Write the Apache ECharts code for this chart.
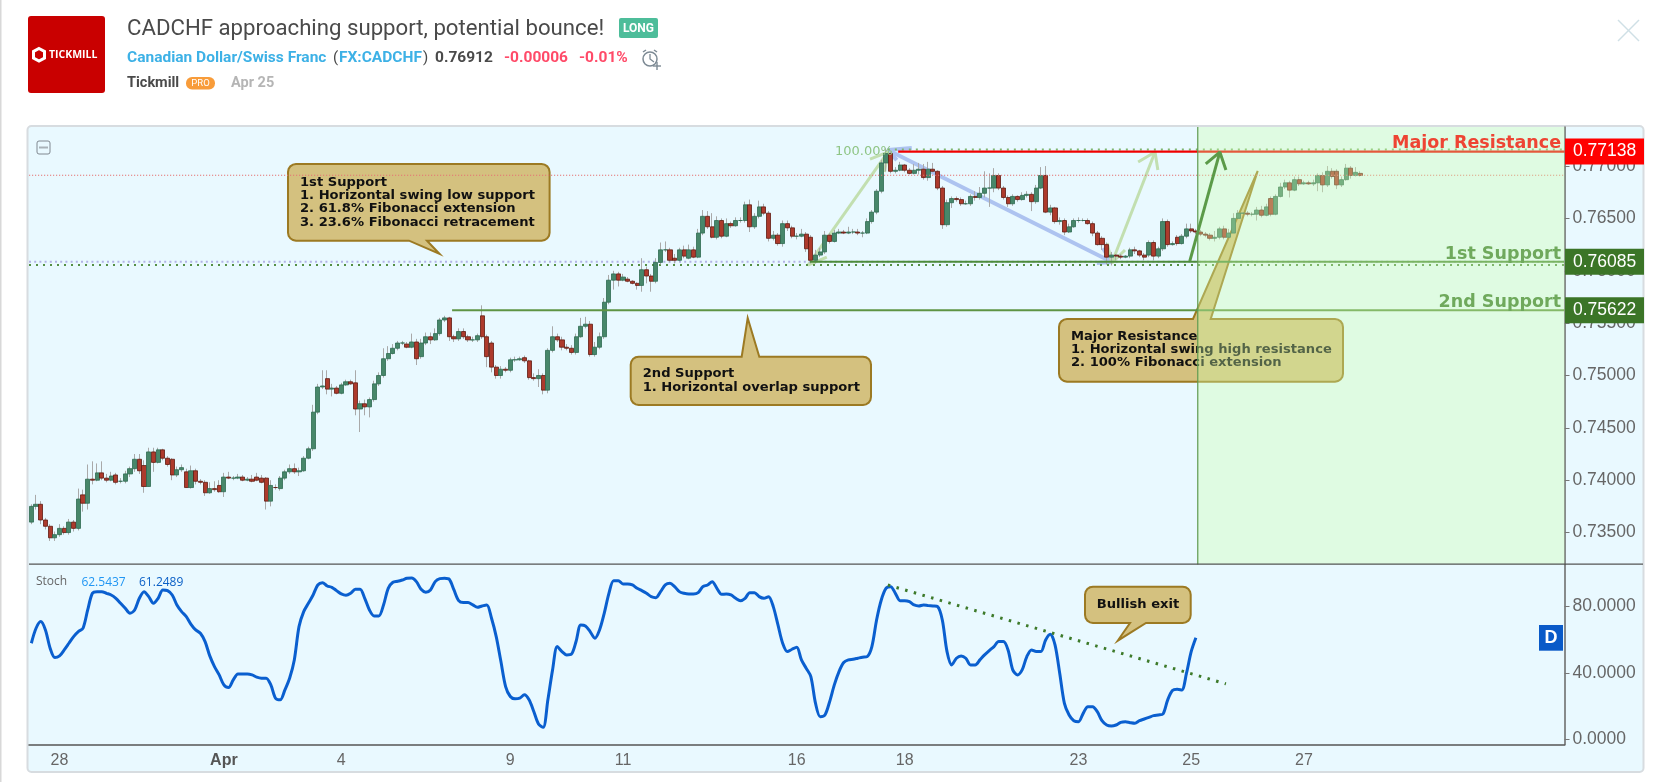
<!DOCTYPE html>
<html><head><meta charset="utf-8">
<script src="https://cdn.jsdelivr.net/npm/echarts@6/dist/echarts.min.js"></script>
<style>html,body{margin:0;padding:0;background:#fff}#c{width:1666px;height:782px}</style>
</head><body><div id="c"></div>
<script>
// Day tick labels, keyed by bar slot
const tickSlots = [6,41,66,102,126,163,186,223,247,271];
const tickLabels = ['28','Apr','4','9','11','16','18','23','25','27'];
const slotCount = 327;
const priceTicks = [0.735,0.74,0.745,0.75,0.755,0.76,0.765,0.77];
const stochTicks = [0,40,80];
// Price levels
const majorResistance = 0.77138, firstSupport = 0.76085, secondSupport = 0.75622, lastPrice = 0.76912;
// Bars: open, close, high, low, in units of 0.0001
const bars = [
[7360,7375,7377,7358],[7375,7377,7386,7372],[7377,7362,7380,7358],[7362,7356,7364,7353],[7356,7345,7358,7342],
[7345,7348,7351,7342],[7348,7354,7358,7346],[7354,7350,7356,7348],[7350,7360,7363,7348],[7360,7354,7362,7351],
[7354,7382,7392,7352],[7386,7378,7391,7370],[7378,7401,7415,7372],[7401,7400,7418,7396],[7400,7407,7416,7399],
[7407,7402,7418,7400],[7402,7400,7406,7398],[7400,7404,7408,7399],[7405,7398,7407,7396],[7399,7399,7402,7397],
[7399,7406,7409,7397],[7406,7411,7413,7403],[7411,7420,7425,7408],[7420,7409,7425,7406],[7414,7394,7419,7388],
[7394,7427,7431,7394],[7427,7417,7431,7408],[7417,7429,7431,7416],[7429,7421,7430,7419],[7421,7415,7423,7413],
[7420,7405,7421,7400],[7405,7410,7413,7403],[7410,7412,7415,7408],[7408,7393,7411,7393],[7393,7409,7414,7392],
[7409,7399,7411,7396],[7399,7398,7401,7396],[7398,7388,7400,7385],[7388,7392,7398,7387],[7392,7391,7399,7389],
[7395,7389,7400,7388],[7389,7403,7407,7384],[7403,7402,7408,7401],[7402,7402,7404,7400],[7402,7403,7406,7401],
[7403,7400,7405,7399],[7400,7401,7403,7399],[7401,7399,7405,7398],[7403,7400,7407,7399],[7402,7398,7405,7397],
[7402,7380,7403,7372],[7380,7395,7400,7375],[7393,7393,7396,7391],[7392,7402,7404,7390],[7402,7408,7410,7400],
[7408,7411,7415,7406],[7411,7408,7416,7406],[7408,7409,7412,7404],[7409,7421,7423,7408],[7421,7430,7432,7420],
[7430,7465,7472,7428],[7465,7489,7492,7463],[7489,7490,7505,7487],[7497,7487,7505,7482],[7487,7488,7492,7480],
[7488,7483,7490,7482],[7483,7491,7493,7482],[7491,7494,7496,7490],[7494,7492,7496,7491],[7493,7468,7505,7462],
[7468,7473,7476,7446],[7473,7470,7477,7462],[7470,7477,7479,7460],[7477,7492,7495,7475],[7492,7500,7503,7490],
[7500,7516,7526,7498],[7516,7521,7528,7514],[7521,7526,7530,7520],[7526,7531,7533,7524],[7531,7531,7533,7529],
[7530,7527,7532,7526],[7527,7532,7540,7526],[7532,7516,7535,7510],
[7518,7531,7535,7516],[7531,7537,7541,7529],[7537,7534,7541,7530],[7534,7540,7545,7533],[7540,7553,7555,7538],
[7553,7555,7557,7551],[7555,7537,7556,7533],[7537,7535,7539,7532],[7535,7542,7545,7533],[7542,7537,7545,7535],
[7537,7534,7539,7532],[7534,7534,7537,7532],[7534,7538,7540,7532],[7557,7537,7567,7535],[7537,7518,7539,7508],
[7531,7508,7533,7503],[7508,7500,7510,7497],[7500,7506,7509,7497],[7506,7505,7508,7503],[7505,7515,7517,7503],
[7515,7515,7518,7513],[7515,7516,7518,7514],[7517,7514,7519,7512],[7514,7498,7515,7496],[7498,7497,7502,7495],
[7497,7500,7506,7489],[7500,7486,7502,7482],[7486,7524,7526,7483],[7524,7537,7547,7522],[7537,7534,7540,7532],
[7534,7527,7537,7524],[7527,7526,7530,7524],[7526,7522,7529,7520],[7522,7537,7540,7520],[7537,7547,7555,7536],
[7547,7549,7556,7545],[7549,7520,7552,7518],[7520,7527,7532,7518],[7527,7537,7541,7525],[7537,7570,7574,7535],
[7570,7591,7596,7568],[7591,7597,7600,7582],[7597,7591,7599,7585],[7591,7594,7597,7590],[7592,7590,7594,7589],
[7590,7588,7591,7587],[7588,7586,7589,7582],[7586,7601,7612,7580],[7601,7595,7604,7588],[7595,7590,7597,7580],
[7590,7608,7612,7588],[7608,7620,7627,7606],[7620,7620,7628,7618],[7620,7610,7622,7608],[7612,7610,7616,7607],
[7610,7620,7622,7609],[7620,7614,7624,7612],[7612,7620,7625,7611],[7620,7613,7623,7612],[7613,7636,7640,7612],
[7636,7652,7658,7634],[7652,7642,7657,7640],[7642,7632,7655,7631],[7632,7648,7652,7630],[7648,7633,7650,7631],
[7633,7645,7650,7632],[7645,7643,7647,7641],[7643,7648,7651,7642],[7648,7648,7651,7646],[7648,7663,7666,7646],
[7663,7642,7668,7637],[7642,7652,7655,7640],[7652,7661,7667,7650],[7661,7655,7664,7653],[7655,7631,7657,7628],
[7631,7634,7638,7629],[7634,7626,7636,7624],[7626,7645,7648,7623],[7645,7641,7648,7638],[7641,7633,7643,7631],
[7633,7633,7636,7630],[7633,7635,7640,7632],[7635,7621,7637,7618],[7632,7610,7634,7607],
[7610,7615,7620,7607],[7615,7618,7622,7613],[7618,7634,7638,7616],[7634,7628,7636,7626],[7628,7636,7639,7627],
[7636,7637,7640,7635],[7637,7636,7639,7635],[7636,7637,7642,7635],[7637,7637,7640,7635],[7637,7636,7640,7634],
[7636,7636,7638,7632],[7636,7647,7650,7635],[7647,7656,7658,7645],[7656,7676,7678,7654],[7676,7703,7706,7674],
[7703,7712,7717,7695],[7712,7695,7714,7693],[7695,7696,7699,7693],[7696,7701,7704,7695],[7701,7696,7702,7694],
[7696,7693,7698,7692],[7693,7696,7702,7692],[7696,7697,7703,7692],[7697,7689,7702,7687],[7689,7697,7704,7686],
[7697,7695,7703,7694],[7695,7679,7696,7677],[7679,7644,7681,7640],[7644,7665,7668,7642],[7665,7669,7671,7660],
[7669,7668,7671,7666],[7668,7664,7670,7662],[7664,7664,7667,7663],[7664,7671,7673,7662],[7671,7670,7676,7667],
[7670,7674,7680,7668],[7674,7679,7695,7670],[7679,7679,7693,7661],[7679,7691,7698,7675],[7691,7679,7693,7677],
[7679,7670,7681,7668],[7670,7664,7672,7661],[7664,7671,7673,7662],[7671,7668,7672,7666],[7668,7672,7675,7667],
[7672,7673,7676,7670],[7673,7666,7675,7657],[7666,7679,7682,7664],[7679,7691,7699,7678],[7691,7656,7700,7655],
[7656,7660,7663,7653],[7660,7647,7661,7645],[7647,7648,7651,7644],[7648,7637,7650,7634],[7637,7642,7645,7636],
[7642,7648,7650,7641],[7648,7648,7651,7646],[7648,7648,7650,7647],[7648,7645,7650,7644],[7645,7636,7647,7633],
[7636,7625,7638,7624],[7631,7625,7633,7620],[7625,7613,7627,7606],[7613,7615,7618,7605],[7615,7614,7616,7610],
[7614,7613,7616,7611],[7613,7614,7615,7612],[7614,7620,7622,7612],[7620,7619,7623,7616],[7619,7615,7620,7613],
[7615,7613,7617,7610],
[7615,7627,7629,7613],[7627,7614,7629,7610],[7614,7621,7623,7612],[7621,7647,7650,7619],[7647,7625,7649,7623],
[7625,7626,7628,7624],[7632,7626,7634,7624],[7626,7633,7635,7625],[7633,7640,7645,7631],[7640,7638,7645,7636],
[7638,7637,7640,7635],[7637,7635,7639,7633],[7635,7634,7637,7632],[7634,7631,7636,7629],[7631,7632,7638,7628],
[7632,7640,7642,7630],[7640,7632,7643,7630],[7632,7636,7640,7630],[7636,7650,7655,7634],[7650,7655,7658,7648],
[7655,7655,7658,7654],[7655,7654,7657,7652],[7654,7654,7656,7652],[7654,7658,7661,7648],[7658,7653,7662,7651],
[7653,7661,7664,7652],[7669,7654,7671,7652],[7654,7671,7673,7653],[7671,7680,7684,7670],[7680,7684,7687,7678],
[7684,7677,7686,7670],[7677,7687,7690,7676],[7687,7683,7690,7681],[7683,7684,7686,7682],[7684,7683,7686,7682],
[7683,7684,7687,7681],[7684,7691,7693,7676],[7691,7682,7694,7675],[7682,7695,7700,7680],[7695,7690,7698,7688],
[7695,7682,7697,7678],[7682,7687,7690,7680],[7687,7698,7702,7686],[7698,7691,7700,7688],[7691,7694,7699,7690],
[7693,7691,7695,7690]
];
// Stochastic %D
const stochD = [
57.9,66.9,70.9,65.9,54.9,49.3,50.3,53.9,57.9,61.9,64.9,66.9,77.9,87.9,88.9,88.9,87.9,86.9,84.9,81.9,78.9,75.9,77.9,84.9,88.9,85.9,81.9,84.9,89.9,89.5,86.9,80.9,76.9,73.9,69.3,65.9,63.9,58.9,50.3,43.9,38.9,32.9,31.3,35.9,39.5,39.5,39.5,38.9,37.5,36.9,36.9,32.9,24.9,23.9,29.9,36.9,47.9,67.9,76.9,81.9,86.9,92.9,94.3,92.3,91.5,89.5,87.5,86.7,87.9,90.3,90.3,84.9,77.9,74.3,74.3,80.9,90.9,94.5,95.1,95.9,96.9,97.1,94.9,90.3,88.5,89.9,94.9,96.7,96.9,96.3,89.9,83.5,82.3,82.3,80.9,79.5,80.3,80.9,72.9,61.9,46.9,31.9,25.9,24.5,24.9,26.9,23.9,16.9,9.4,7.4,23.9,41.9,55.9,52.9,50.9,51.3,58.9,68.9,
68.3,64.9,60.9,65.9,75.9,87.9,95.5,95.5,93.5,93.5,92.9,90.9,89.5,87.9,85.9,85.3,88.9,92.9,93.9,91.9,88.9,87.9,87.5,87.5,88.3,91.9,92.9,94.9,90.9,87.3,87.5,86.9,84.9,83.5,84.9,88.3,88.3,85.9,84.9,85.9,79.9,68.9,57.9,52.9,54.3,55.5,47.9,42.9,37.9,21.8,13.8,14.8,22.8,32.9,40.9,46.3,47.9,48.3,48.9,49.5,49.9,55.9,71.9,83.9,90.9,91.9,87.9,83.5,83.5,82.9,80.9,80.3,80.9,80.5,80.3,79.9,71.9,52.9,44.9,48.9,50.3,48.9,44.9,44.9,47.9,50.9,53.5,55.9,58.9,58.9,53.9,41.9,38.9,41.9,49.9,53.9,52.9,52.9,59.9,63.3,56.9,39.9,21.8,14.8,11.4,10.8,15.8,19.8,19.8,16.8,11.4,8.8,8.2,8.8,10.4,10.8,10.2,9.8,11.4,12.4,13.4,14.4,14.8,15.4,23.9,29.5,30.2,29.8,39.9,52.9,61.25
];
// Stochastic trendline and chart drawings as [slot, value]
const stochTrend = [[182.9,92.9],[254.9,33.5]];
const blueArrow = [[182.9,0.77153],[230.6,0.76084]];
const blueHeadTop = [[188,0.77172],[182.9,0.77153],[184.8,0.77057]];
const blueHeadLow = [[227.4,0.76074],[230.6,0.76084],[228.7,0.76217]];
const paleArrowA = [[165.9,0.76055],[182.9,0.77134]];
const paleHeadA = [[179.1,0.77067],[182.9,0.77134],[182.2,0.76943]];
const paleFootA = [[169.9,0.76131],[165.9,0.76055]];
const paleArrowB = [[230.6,0.76074],[239.8,0.77134]];
const paleHeadB = [[236.2,0.77038],[239.8,0.77134],[240.4,0.76962]];
const paleFootB = [[229.6,0.76265],[230.6,0.76074],[233.4,0.76198]];
const darkArrow = [[247.2,0.76093],[253.6,0.77134]];
const darkHead = [[250.6,0.7702],[253.6,0.77134],[254.9,0.76962]];
const forecastStart = 248.9;

const yMin = 0.73195, yMax = 0.77373, sMin = -3.1, sMax = 105.2;
const cats = Array.from({length:slotCount},(_,i)=>{const k=tickSlots.indexOf(i);return k<0?'':tickLabels[k];});

const chart = echarts.init(document.getElementById('c'));
const lineS = (name,data,color,width,z,type,xi,yi)=>({
  name,type:'line',data,symbol:'none',silent:true,animation:false,z,
  xAxisIndex:xi==null?2:xi,yAxisIndex:yi==null?0:yi,
  lineStyle:{color,width,type:type||'solid',cap:'butt'}
});
const axisFont = {fontFamily:'"Liberation Sans", Arial, sans-serif',fontSize:16};
const priceFont = {fontFamily:'"Liberation Sans", Arial, sans-serif',fontSize:17.5};
// price tag at the right edge of the pane
const tagS = (name,v,bg)=>({name,type:'scatter',xAxisIndex:2,yAxisIndex:0,data:[[slotCount,v]],symbolSize:1,
  itemStyle:{color:'rgba(0,0,0,0)',opacity:1},silent:true,z:8,clip:false,labelLayout:{hideOverlap:false},
  label:Object.assign({show:true,opacity:1,position:'right',distance:0,formatter:v.toFixed(5),backgroundColor:bg,color:'#fff',
    width:70,padding:[4,1,4,8],align:'left'},priceFont)});
// rounded box with a speech-bubble tail, as polygon points
const arc=(cx,cy,r,a0)=>[0,1,2,3,4].map(k=>{const a=a0+k*Math.PI/8;return [cx+r*Math.cos(a),cy+r*Math.sin(a)];});
const rc = (x1,y1,x2,y2,r,t)=>{
  let p=[];
  p=p.concat(arc(x1+r,y1+r,r,Math.PI));
  if(t.side==='top') p.push([t.b1,y1],[t.tx,t.ty],[t.b2,y1]);
  p=p.concat(arc(x2-r,y1+r,r,-Math.PI/2));
  p=p.concat(arc(x2-r,y2-r,r,0));
  if(t.side==='bottom') p.push([t.b2,y2],[t.tx,t.ty],[t.b1,y2]);
  p=p.concat(arc(x1+r,y2-r,r,Math.PI/2));
  return p;
};
const callFont='bold 13.1px "DejaVu Sans"';
const T=(text,x,y,font,fill,z,align)=>({type:'text',z:z||20,silent:true,style:{text,x,y,font,fill,textVerticalAlign:'middle',textAlign:align||'left'}});
const callout=(pts,z)=>({type:'polygon',z,silent:true,shape:{points:pts},style:{fill:'#d4c17f',stroke:'#9c7a23',lineWidth:2}});
const hF='"Roboto"';
const graphics=[
  {type:'rect',z:-10,silent:true,shape:{x:0,y:0,width:1.5,height:782},style:{fill:'#d8d8d8'}},
  {type:'rect',z:-9,silent:true,shape:{x:27.5,y:126,width:1616,height:646,r:4},style:{fill:'#e9f9ff',stroke:'#d7dce0',lineWidth:2}},
  // logo
  {type:'rect',z:10,silent:true,shape:{x:28,y:16,width:77,height:77,r:3},style:{fill:'#c90000'}},
  {type:'polygon',z:11,silent:true,shape:{points:[[39,48.5],[44.5,51.5],[44.5,58],[39,61],[33.5,58],[33.5,51.5]]},style:{fill:'none',stroke:'#fff',lineWidth:3}},
  T('TICKMILL',49,55,'bold 10.5px "Open Sans"','#fff',11),
  // header text
  T('CADCHF approaching support, potential bounce!',127,29.5,`22.2px ${hF}`,'#4a4a4a'),
  {type:'rect',z:10,silent:true,shape:{x:619,y:18,width:39,height:20,r:2},style:{fill:'#4dbd9a'}},
  T('LONG',638.5,28.5,`bold 12px ${hF}`,'#fff',11,'center'),
  T('Canadian Dollar/Swiss Franc',127,58.5,`bold 15.5px ${hF}`,'#3db1e6'),
  T('(',333,58.5,`15px ${hF}`,'#4a4a4a'),
  T('FX:CADCHF',339,58.5,`bold 15.5px ${hF}`,'#3db1e6'),
  T(')',423,58.5,`15px ${hF}`,'#4a4a4a'),
  T('0.76912',435,58.5,`bold 15.5px ${hF}`,'#4a4a4a'),
  T('-0.00006',504,58.5,`bold 15.5px ${hF}`,'#ff4a68'),
  T('-0.01%',579,58.5,`bold 15.5px ${hF}`,'#ff4a68'),
  {type:'circle',z:10,silent:true,shape:{cx:650,cy:59,r:7},style:{fill:'none',stroke:'#7d8a94',lineWidth:1.5}},
  {type:'polyline',z:10,silent:true,shape:{points:[[650,54],[650,59],[654,62]]},style:{fill:'none',stroke:'#7d8a94',lineWidth:1.3}},
  {type:'polyline',z:10,silent:true,shape:{points:[[643,52],[646,50]]},style:{fill:'none',stroke:'#7d8a94',lineWidth:1.5}},
  {type:'polyline',z:10,silent:true,shape:{points:[[654,50],[657,52]]},style:{fill:'none',stroke:'#7d8a94',lineWidth:1.5}},
  {type:'polyline',z:10,silent:true,shape:{points:[[653,66],[661,66]]},style:{fill:'none',stroke:'#7d8a94',lineWidth:1.4}},
  {type:'polyline',z:10,silent:true,shape:{points:[[657,62],[657,70]]},style:{fill:'none',stroke:'#7d8a94',lineWidth:1.4}},
  T('Tickmill',127,83,`bold 14.5px ${hF}`,'#4a4a4a'),
  {type:'rect',z:10,silent:true,shape:{x:186,y:77,width:29,height:12.5,r:6},style:{fill:'#f89c3a'}},
  T('PRO',200.5,83.5,`9.5px ${hF}`,'#fff',11,'center'),
  T('Apr 25',231,83,`bold 14.5px ${hF}`,'#b5b5b5'),
  {type:'polyline',z:10,silent:true,shape:{points:[[1618,20],[1639,41]]},style:{fill:'none',stroke:'#cfe0e6',lineWidth:1.4}},
  {type:'polyline',z:10,silent:true,shape:{points:[[1639,20],[1618,41]]},style:{fill:'none',stroke:'#cfe0e6',lineWidth:1.4}},
  // collapse box
  {type:'rect',z:10,silent:true,shape:{x:37,y:141,width:13,height:13,r:2},style:{fill:'none',stroke:'#808890',lineWidth:1}},
  {type:'rect',z:10,silent:true,shape:{x:39,y:146.5,width:9,height:2},style:{fill:'#a9b2b8'}},
  // callouts
  callout(rc(288,164,549.6,240.7,8,{side:'bottom',b1:409,b2:427,tx:439.6,ty:254}),3),
  T('1st Support',300,182.5,callFont,'#111',3),
  T('1. Horizontal swing low support',300,195.7,callFont,'#111',3),
  T('2. 61.8% Fibonacci extension',300,208.5,callFont,'#111',3),
  T('3. 23.6% Fibonacci retracement',300,222.5,callFont,'#111',3),
  callout(rc(630.7,356.7,871,405,8,{side:'top',b1:741.7,b2:759.3,tx:747.7,ty:318}),3),
  T('2nd Support',642.7,373.8,callFont,'#111',3),
  T('1. Horizontal overlap support',642.7,387.8,callFont,'#111',3),
  callout(rc(1059,319,1343,381.7,8,{side:'top',b1:1193,b2:1210.7,tx:1257.7,ty:171}),3),
  T('Major Resistance',1071,336.8,callFont,'#111',3),
  T('1. Horizontal swing high resistance',1071,349.8,callFont,'#111',3),
  T('2. 100% Fibonacci extension',1071,363,callFont,'#111',3),
  callout(rc(1085,586.7,1190.7,623,8,{side:'bottom',b1:1130,b2:1146,tx:1117.7,ty:640.7}),3),
  T('Bullish exit',1138,604.5,callFont,'#111',3,'center'),
  // level labels
  T('Major Resistance',1561,143.5,'bold 17.5px "DejaVu Sans"','#ee4433',20,'right'),
  T('1st Support',1561,254,'bold 17.5px "DejaVu Sans"','#6fa95c',20,'right'),
  T('2nd Support',1561,302.5,'bold 17.5px "DejaVu Sans"','#6fa95c',20,'right'),
  T('100.00%',835,152,'13px "DejaVu Sans"','#8fc585',20),
  // stoch legend
  T('Stoch',36,582,'12px "Open Sans"','#666',20),
  T('62.5437',81.4,583,'12px "Open Sans"','#2196f3',20),
  T('61.2489',139,583,'12px "Open Sans"','#0a5fc6',20),
  // D tag
  {type:'rect',z:20,silent:true,shape:{x:1539,y:625,width:24,height:25.7},style:{fill:'#0a5ac8'}},
  T('D',1551,638,'bold 18px "Liberation Sans"','#fff',21,'center'),
  // separator and clip below the stoch axis
  {type:'rect',z:19,silent:true,shape:{x:29,y:563.6,width:1614,height:1.2},style:{fill:'#555'}},
  {type:'rect',z:19,silent:true,shape:{x:1567,y:745.3,width:72,height:12},style:{fill:'#e9f9ff'}}
];

chart.setOption({
  animation:false,
  backgroundColor:'#fff',
  grid:[{left:29,right:101.5,top:127,height:437.5,containLabel:false},{left:29,right:101.5,top:564.5,height:180.3}],
  xAxis:[
    {type:'category',gridIndex:0,data:cats,boundaryGap:true,axisLine:{show:false},axisTick:{show:false},axisLabel:{show:false},splitLine:{show:false}},
    {type:'category',gridIndex:1,data:cats,boundaryGap:true,
      axisLine:{onZero:false,lineStyle:{color:'#555',width:1.5}},
      axisTick:{length:4,alignWithLabel:true,interval:(i,v)=>v!=='',lineStyle:{color:'#777'}},
      axisLabel:Object.assign({interval:(i,v)=>v!=='',margin:8,color:'#666',
        formatter:v=>v==='Apr'?'{b|Apr}':v,rich:{b:Object.assign({fontWeight:'bold',color:'#555'},axisFont)}},axisFont),
      splitLine:{show:false}},
    {type:'value',gridIndex:0,min:0,max:slotCount,show:false,splitLine:{show:false}},
    {type:'value',gridIndex:1,min:0,max:slotCount,show:false,splitLine:{show:false}}
  ],
  yAxis:[
    {type:'value',gridIndex:0,position:'right',min:yMin,max:yMax,scale:true,splitLine:{show:false},
      axisLine:{show:true,onZero:false,lineStyle:{color:'#666',width:1.5}},
      axisTick:{show:true,length:5,customValues:priceTicks,lineStyle:{color:'#777'}},
      axisLabel:Object.assign({show:true,margin:8,customValues:priceTicks,color:'#666',formatter:v=>v.toFixed(5)},priceFont)},
    {type:'value',gridIndex:1,position:'right',min:sMin,max:sMax,splitLine:{show:false},
      axisLine:{show:true,onZero:false,lineStyle:{color:'#666',width:1.5}},
      axisTick:{show:true,length:5,customValues:stochTicks,lineStyle:{color:'#777'}},
      axisLabel:Object.assign({show:true,margin:8,customValues:stochTicks,color:'#666',formatter:v=>v.toFixed(4)},priceFont)}
  ],
  graphic:{elements:graphics},
  series:[
    lineS('blue',blueArrow,'#adc3f0',4,1),
    lineS('blueTop',blueHeadTop,'#adc3f0',4,1),
    lineS('blueLow',blueHeadLow,'#adc3f0',4,1),
    lineS('paleA',paleArrowA,'#c2dfb0',3,1),
    lineS('paleHeadA',paleHeadA,'#c2dfb0',3,1),
    lineS('paleFootA',paleFootA,'#c2dfb0',3,1),
    lineS('paleB',paleArrowB,'#c2dfb0',3,1),
    lineS('paleHeadB',paleHeadB,'#c2dfb0',3,1),
    lineS('paleFootB',paleFootB,'#c2dfb0',3,1),
    {name:'wicks',type:'candlestick',xAxisIndex:0,yAxisIndex:0,z:2,barWidth:1,silent:true,
      data:bars.map(b=>[b[0]/1e4,b[1]/1e4,b[3]/1e4,b[2]/1e4]),
      itemStyle:{color:'#a9a9a9',color0:'#a9a9a9',borderColor:'#a9a9a9',borderColor0:'#a9a9a9',borderWidth:1}},
    {name:'CADCHF',type:'candlestick',xAxisIndex:0,yAxisIndex:0,z:3,barWidth:4.6,silent:true,
      data:bars.map(b=>[b[0]/1e4,b[1]/1e4,Math.min(b[0],b[1])/1e4,Math.max(b[0],b[1])/1e4]),
      itemStyle:{color:'#47876a',color0:'#ad3a2c',borderColor:'#2e6b50',borderColor0:'#5f1a10',borderWidth:0.8}},
    lineS('redDotted',[[0,lastPrice],[slotCount,lastPrice]],'#e57373',1.2,4,[1.2,1.8]),
    lineS('purpleDotted',[[0,0.76086],[slotCount,0.76086]],'#b3b3e6',2,2,[2,3.2]),
    lineS('greenDotted',[[0,0.76054],[slotCount,0.76054]],'#558f45',2,2,[2,5]),
    lineS('topDotted',[[182.9,0.77158],[slotCount,0.77158]],'#7fb56e',2,2,[2,5]),
    lineS('resistance',[[185.1,majorResistance],[slotCount,majorResistance]],'#f00000',2.2,4),
    lineS('support1',[[166.3,firstSupport],[slotCount,firstSupport]],'#4e8c3c',2,4),
    lineS('support2',[[90.1,secondSupport],[slotCount,secondSupport]],'#5e9444',2,4),
    {name:'zone',type:'line',xAxisIndex:2,yAxisIndex:0,data:[],silent:true,z:6,
      markArea:{silent:true,z:6,itemStyle:{color:'rgba(207,255,172,0.35)'},
        data:[[{xAxis:forecastStart,yAxis:yMax},{xAxis:slotCount,yAxis:yMin}]]}},
    lineS('dark',darkArrow,'#5b9a48',3,7),
    lineS('darkHead',darkHead,'#5b9a48',3,7),
    lineS('zoneEdge',[[forecastStart,yMin],[forecastStart,yMax]],'#5f9a50',1.2,7),
    tagS('tagResistance',majorResistance,'#ff0000'),
    tagS('tagSupport1',firstSupport,'#3b7527'),
    tagS('tagSupport2',secondSupport,'#3b7527'),
    {name:'Stoch %D',type:'line',xAxisIndex:1,yAxisIndex:1,data:stochD,symbol:'none',smooth:0.3,silent:true,z:5,
      lineStyle:{color:'#0a5fcf',width:3}},
    lineS('stochTrend',stochTrend,'#3d7a2a',3,6,[2.5,6.5],3,1)
  ]
});
</script></body></html>
